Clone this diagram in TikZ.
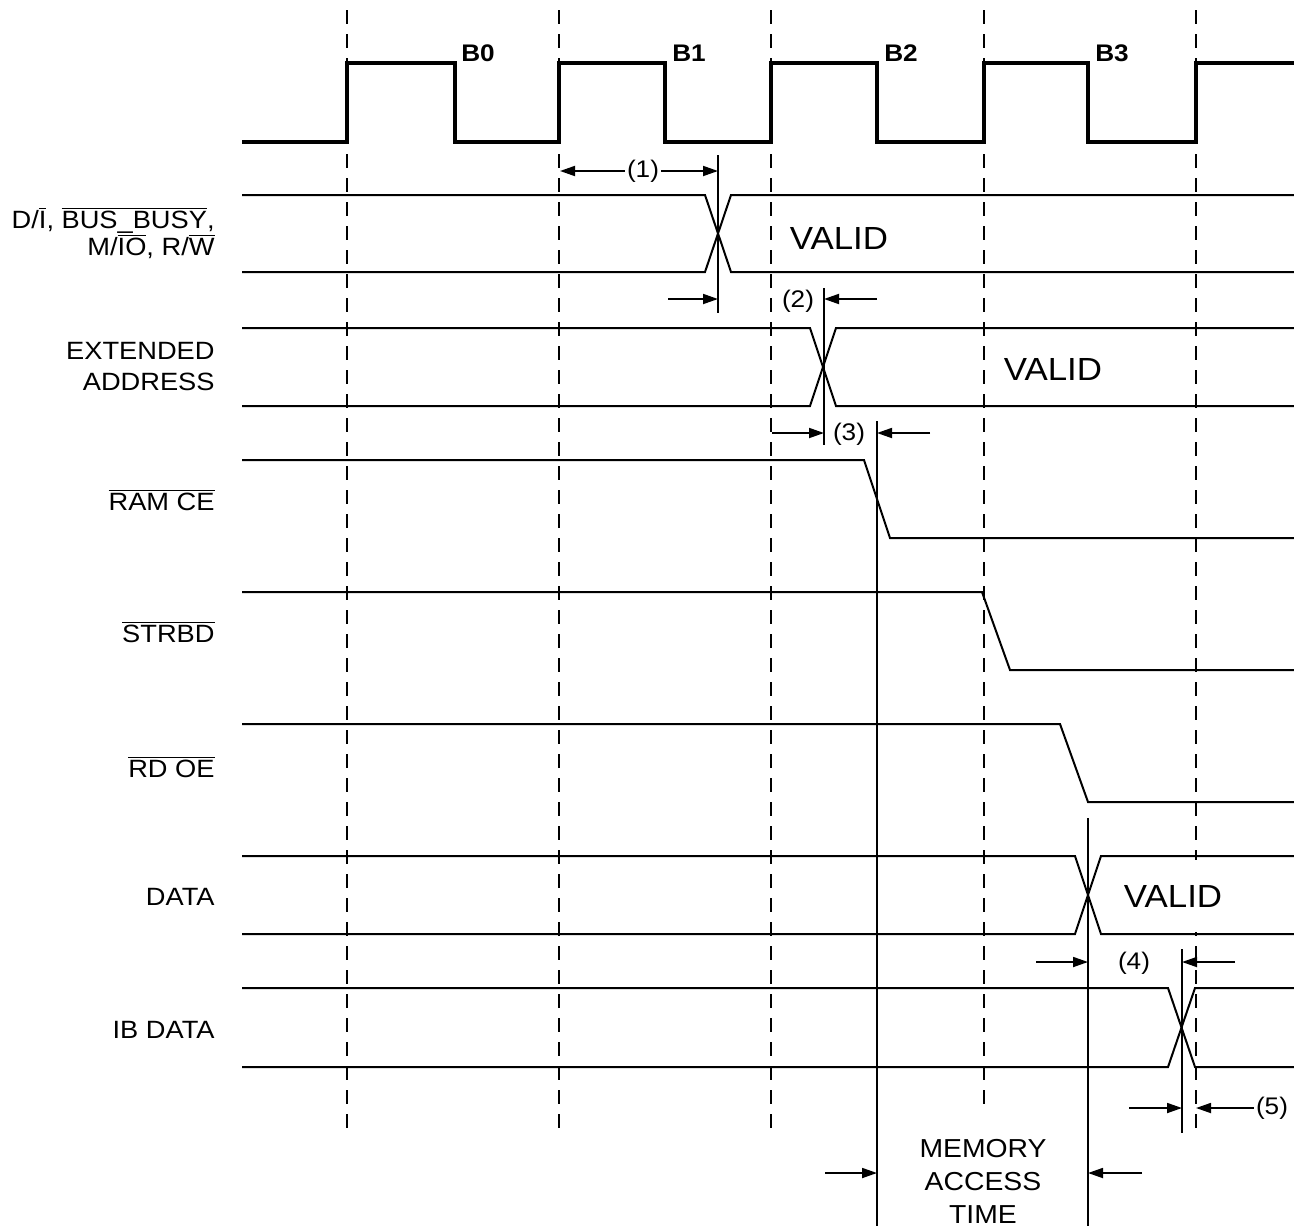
\documentclass[tikz,border=0pt]{standalone}
\usepackage{fontspec}
\setmainfont{Liberation Sans}[FakeStretch=1.09]
\usepackage{tikz}
\usetikzlibrary{arrows.meta,positioning}
\newcommand{\ovl}[1]{$\overline{\mbox{#1}}$}
\tikzstyle{clk} = [line width=1.6pt, line join=miter]
\tikzstyle{sig} = [line width=1pt]
\tikzstyle{grid} = [line width=0.75pt, dash pattern=on 7pt off 5pt]
\tikzstyle{tline} = [line width=1pt]
\tikzstyle{dim} = [line width=0.9pt, -{Triangle[length=7.5pt,width=5pt]}]
\tikzstyle{signame} = [anchor=east, align=right, inner sep=0pt, font=\fontsize{12.5}{13.5}\selectfont]
\tikzstyle{valid} = [font=\fontsize{16}{18}\selectfont, fill=white, inner xsep=1pt, minimum height=36pt]
\tikzstyle{num} = [font=\fontsize{12}{14}\selectfont, inner sep=1pt]
\tikzstyle{beat} = [font=\fontsize{12}{14}\selectfont\bfseries, inner sep=0pt]

\begin{document}
\begin{tikzpicture}[x=0.5pt, y=-0.5pt]
\useasboundingbox (0,0) rectangle (1294,1226);

% clock phase grid
\foreach \x in {347,559,771,1196}
  \draw[grid] (\x,10) -- (\x,1135);
\draw[grid] (984,10) -- (984,1105);

% clock
\draw[clk] (242,142) -- (347,142) -- (347,63) -- (455,63) -- (455,142)
  -- (559,142) -- (559,63) -- (665,63) -- (665,142)
  -- (771,142) -- (771,63) -- (877,63) -- (877,142)
  -- (984,142) -- (984,63) -- (1088,63) -- (1088,142)
  -- (1196,142) -- (1196,63) -- (1294,63);
\node (b0) [beat] at (478,53) {B0};
\node (b1) [beat] at (689,53) {B1};
\node (b2) [beat] at (901,53) {B2};
\node (b3) [beat] at (1112,53) {B3};

% signal names
\node (ldio) [signame] at (215,233) {D/\ovl{I}, \ovl{BUS\_BUSY},\\M/\ovl{IO}, R/\ovl{W}};
\node (lext) [signame, font=\fontsize{12.5}{15.5}\selectfont] at (215,367) {EXTENDED\\ADDRESS};
\node (lram) [signame] at (215,500) {\ovl{RAM CE}};
\node (lstr) [signame] at (215,632) {\ovl{STRBD}};
\node (lrd) [signame] at (215,767) {\ovl{RD OE}};
\node (ldat) [signame] at (215,897) {DATA};
\node (lib) [signame] at (215,1030) {IB DATA};

% waveforms
\node (vdio) [valid] at (839,238) {VALID};
\draw[sig] (242,195) -- (705,195) -- (731,272) -- (1294,272);
\draw[sig] (242,272) -- (705,272) -- (731,195) -- (1294,195);

\node (vext) [valid] at (1053,369) {VALID};
\draw[sig] (242,328) -- (810,328) -- (836,406) -- (1294,406);
\draw[sig] (242,406) -- (810,406) -- (836,328) -- (1294,328);

\draw[sig] (242,460) -- (864,460) -- (890,538) -- (1294,538);
\draw[sig] (242,592) -- (982,592) -- (1010,670) -- (1294,670);
\draw[sig] (242,724) -- (1060,724) -- (1088,802) -- (1294,802);

\node (vdat) [valid] at (1173,896) {VALID};
\draw[sig] (242,856) -- (1075,856) -- (1101,934) -- (1294,934);
\draw[sig] (242,934) -- (1075,934) -- (1101,856) -- (1294,856);

\draw[sig] (242,988) -- (1168,988) -- (1195,1067) -- (1294,1067);
\draw[sig] (242,1067) -- (1168,1067) -- (1195,988) -- (1294,988);

% timing markers
\draw[tline] (718,155) -- (718,313);
\draw[tline] (824,288) -- (824,445);
\draw[tline] (877,421) -- (877,1226);
\draw[tline] (1088,818) -- (1088,1226);
\draw[tline] (1182,949) -- (1182,1133);

% (1)
\node (n1) [num] at (643,171) {(1)};
\coordinate (e1a) at (560,171);
\coordinate (e1b) at (718,171);
\draw[dim] (n1) -- (e1a);
\draw[dim] (n1) -- (e1b);

% (2)
\node (n2) [num] at (798,301) {(2)};
\coordinate (s2a) at (668,299);
\coordinate (e2a) at (718,299);
\coordinate (s2b) at (877,299);
\coordinate (e2b) at (824,299);
\draw[dim] (s2a) -- (e2a);
\draw[dim] (s2b) -- (e2b);

% (3)
\node (n3) [num] at (849,434) {(3)};
\coordinate (s3a) at (772,433);
\coordinate (e3a) at (824,433);
\coordinate (s3b) at (930,433);
\coordinate (e3b) at (877,433);
\draw[dim] (s3a) -- (e3a);
\draw[dim] (s3b) -- (e3b);

% (4)
\node (n4) [num] at (1134,963) {(4)};
\coordinate (s4a) at (1036,962);
\coordinate (e4a) at (1088,962);
\coordinate (s4b) at (1235,962);
\coordinate (e4b) at (1182,962);
\draw[dim] (s4a) -- (e4a);
\draw[dim] (s4b) -- (e4b);

% (5)
\node (n5) [num] at (1272,1108) {(5)};
\coordinate (s5a) at (1129,1108);
\coordinate (e5a) at (1182,1108);
\coordinate (e5b) at (1196,1108);
\draw[dim] (s5a) -- (e5a);
\draw[dim] (n5) -- (e5b);

% memory access time
\node (mat) [align=center, font=\fontsize{13}{16.5}\selectfont] at (983,1181) {MEMORY\\ACCESS\\TIME};
\coordinate (s6a) at (825,1173);
\coordinate (e6a) at (877,1173);
\coordinate (s6b) at (1142,1173);
\coordinate (e6b) at (1088,1173);
\draw[dim] (s6a) -- (e6a);
\draw[dim] (s6b) -- (e6b);
\end{tikzpicture}
\end{document}
